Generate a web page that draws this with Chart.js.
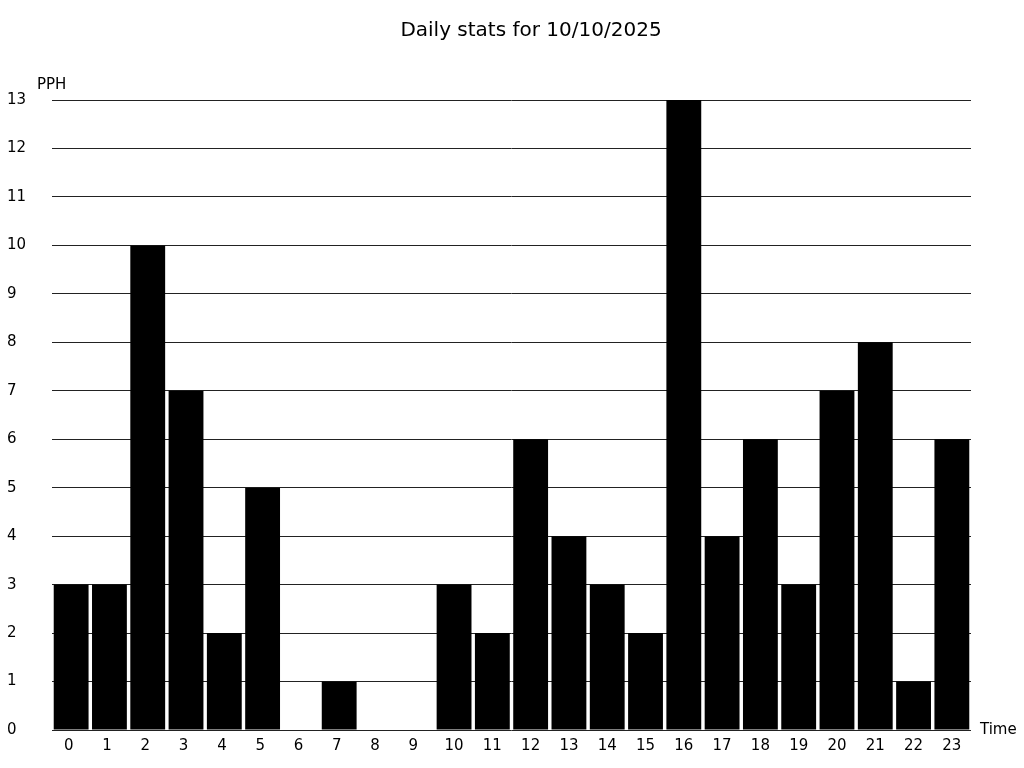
<!DOCTYPE html>
<html>
<head>
<meta charset="utf-8">
<title>Daily stats</title>
<script src="https://cdn.jsdelivr.net/npm/chart.js@4/dist/chart.umd.min.js"></script>
<style>
  html, body { margin: 0; padding: 0; background: #fff; }
  canvas { display: block; }
</style>
</head>
<body>
<canvas id="statsChart" width="1024" height="768"></canvas>
<script>
// hour labels are padded to two characters, like the original
const hours = ['0 ', '1 ', '2 ', '3 ', '4 ', '5 ', '6 ', '7 ', '8 ', '9 ', '10', '11',
  '12', '13', '14', '15', '16', '17', '18', '19', '20', '21', '22', '23'];
const pph = [3, 3, 10, 7, 2, 5, 0, 1, 0, 0, 3, 2, 6, 4, 3, 2, 13, 4, 6, 3, 7, 8, 1, 6];
const titleText = 'Daily stats for 10/10/2025';
const yLabel = 'PPH';
const xLabel = 'Time';

const FONT = '"DejaVu Sans", sans-serif';

// title and axis captions drawn by hand
const captions = {
  id: 'captions',
  afterDraw(chart) {
    const { ctx, chartArea } = chart;
    ctx.save();
    ctx.fillStyle = '#000';
    ctx.textBaseline = 'middle';
    ctx.font = '20px ' + FONT;
    ctx.textAlign = 'center';
    ctx.fillText(titleText, 531, 31);
    ctx.font = '15px ' + FONT;
    ctx.textAlign = 'left';
    ctx.fillText(yLabel, chartArea.left - 15, chartArea.top - 15);
    ctx.fillText(xLabel, chartArea.right + 9, chartArea.bottom);
    ctx.restore();
  }
};

const ctx = document.getElementById('statsChart').getContext('2d');
const statsChart = new Chart(ctx, {
  type: 'bar',
  data: {
    labels: hours,
    datasets: [{
      data: pph,
      backgroundColor: '#000',
      borderWidth: 0,
      barPercentage: 0.91,
      categoryPercentage: 1
    }]
  },
  options: {
    responsive: false,
    animation: false,
    layout: { padding: { left: 7, right: 53, top: 100, bottom: 0 } },
    plugins: {
      legend: { display: false },
      tooltip: { enabled: false },
      title: { display: false }
    },
    scales: {
      x: {
        grid: { display: false, drawTicks: false },
        border: { display: false },
        ticks: {
          color: '#000',
          font: { family: FONT, size: 15 },
          padding: 7,
          maxRotation: 0,
          autoSkip: false
        },
        afterFit(scale) { scale.height = 38; }
      },
      y: {
        min: 0,
        max: 13,
        grid: { color: '#222', lineWidth: 1, drawTicks: false },
        border: { display: false },
        ticks: {
          stepSize: 1,
          color: '#000',
          font: { family: FONT, size: 15 },
          crossAlign: 'far',
          padding: 0
        },
        afterFit(scale) { scale.width = 45; }
      }
    }
  },
  plugins: [captions]
});
</script>
</body>
</html>
